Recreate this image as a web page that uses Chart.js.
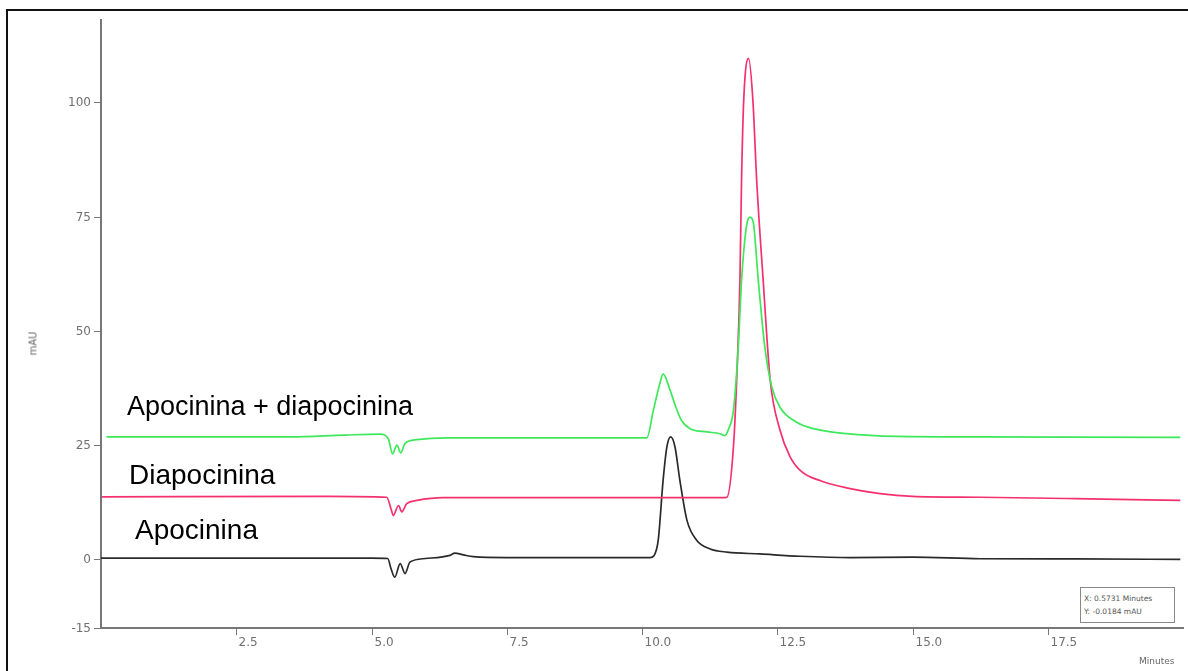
<!DOCTYPE html>
<html>
<head>
<meta charset="utf-8">
<script src="https://cdn.jsdelivr.net/npm/chart.js@4.4.0/dist/chart.umd.min.js"></script>
<style>
  html, body { margin: 0; padding: 0; background: #fff; }
  #wrap { position: relative; width: 1188px; height: 671px; overflow: hidden; }
  #frame { position: absolute; left: 6px; top: 9px; width: 1200px; height: 700px;
           border-left: 2px solid #111; border-top: 2px solid #111; }
  canvas { position: absolute; left: 0; top: 0; }
  .lbl { position: absolute; font-family: "Liberation Sans", Arial, sans-serif; color: #000; white-space: nowrap; }
  .small { position: absolute; font-family: "DejaVu Sans", sans-serif; color: #666; white-space: nowrap; }
  #info { position: absolute; left: 1080px; top: 587px; width: 95px; height: 36px; border: 1px solid #888;
          font-family: "DejaVu Sans", sans-serif; font-size: 7.5px; color: #555; line-height: 13px; padding: 4px 0 0 3px; box-sizing: border-box; background: #fff; }
</style>
</head>
<body>
<div id="wrap">
  <div id="frame"></div>
  <canvas id="chrom" width="1188" height="671"></canvas>
  <div class="lbl" style="left:127px; top:391px; font-size:27px;">Apocinina + diapocinina</div>
  <div class="lbl" style="left:129px; top:459px; font-size:28px;">Diapocinina</div>
  <div class="lbl" style="left:135px; top:514px; font-size:28px;">Apocinina</div>
  <div class="small" style="left:21px; top:338px; font-size:10px; transform: rotate(-90deg);">mAU</div>
  <div class="small" style="left:1139px; top:656px; font-size:9px;">Minutes</div>
  <div id="info">X: 0.5731 Minutes<br>Y: -0.0184 mAU</div>
</div>
<script>
const xTicks = [2.5, 5.0, 7.5, 10.0, 12.5, 15.0, 17.5];
const xTickLabels = ['2.5', '5.0', '7.5', '10.0', '12.5', '15.0', '17.5'];
const yTicks = [-15, 0, 25, 50, 75, 100];

// Apocinina (negro)
const apoT = [0, 5.0, 5.3, 5.36, 5.43, 5.53, 5.62, 5.71, 6.0, 6.45, 6.54, 6.7, 6.88, 7.5, 10.15, 10.22, 10.3, 10.39, 10.46, 10.53, 10.61, 10.7, 10.83, 11.01, 11.26, 11.57, 12.18, 12.92, 13.85, 15.0, 16.25, 18.0, 19.95];
const apoV = [0.3, 0.3, 0.2, -2.0, -3.9, -0.9, -3.1, -0.6, 0.2, 0.9, 1.4, 1.0, 0.6, 0.4, 0.4, 0.8, 4.2, 17.3, 24.6, 26.8, 24.6, 17.3, 8.6, 4.2, 2.3, 1.6, 1.2, 0.7, 0.4, 0.5, 0.15, 0.1, 0.0];

// Diapocinina (rosa)
const diaT = [0.02, 4.2, 5.28, 5.37, 5.4, 5.5, 5.56, 5.65, 5.84, 6.33, 8.0, 11.5, 11.57, 11.69, 11.75, 11.81, 11.84, 11.88, 11.97, 12.05, 12.12, 12.24, 12.37, 12.55, 12.74, 12.95, 13.3, 13.8, 14.4, 15.0, 16.25, 18.0, 19.95];
const diaV = [13.7, 13.8, 13.6, 10.7, 9.6, 11.8, 10.4, 12.2, 12.9, 13.5, 13.5, 13.5, 13.6, 24.6, 39.2, 61.0, 82.9, 100.4, 109.6, 100.4, 82.9, 61.0, 39.2, 28.3, 22.4, 19.2, 17.2, 15.6, 14.4, 13.8, 13.6, 13.3, 12.9];

// Apocinina + diapocinina (verde)
const mixT = [0.1, 3.5, 4.5, 5.16, 5.31, 5.39, 5.47, 5.54, 5.62, 5.84, 6.39, 10.05, 10.09, 10.21, 10.33, 10.39, 10.52, 10.62, 10.73, 10.89, 11.2, 11.44, 11.53, 11.6, 11.69, 11.78, 11.84, 11.94, 12.0, 12.06, 12.15, 12.27, 12.4, 12.55, 12.86, 13.17, 13.78, 14.71, 16.25, 19.95];
const mixV = [26.8, 26.8, 27.2, 27.4, 26.4, 23.1, 25.0, 23.3, 25.4, 26.2, 26.6, 26.6, 26.6, 32.6, 38.5, 40.6, 37.0, 33.5, 30.4, 28.6, 27.9, 27.5, 27.1, 28.5, 32.6, 46.5, 61.0, 73.5, 74.9, 73.5, 61.0, 46.5, 37.7, 33.3, 30.0, 28.6, 27.5, 26.9, 26.8, 26.7];

function puntos(ts, vs) {
    return ts.map((t, i) => ({ x: t, y: vs[i] }));
}

function serie(label, ts, vs, color) {
    return {
        label: label,
        data: puntos(ts, vs),
        borderColor: color,
        borderWidth: 1.7,
        pointRadius: 0,
        fill: false,
        cubicInterpolationMode: 'monotone'
    };
}

// marcas y etiquetas de los ejes al estilo del software del HPLC
const ticksPlugin = {
    id: 'hplcTicks',
    afterDraw(chart) {
        const { ctx, chartArea, scales: { x, y } } = chart;
        ctx.save();
        ctx.strokeStyle = '#777';
        ctx.lineWidth = 1;
        ctx.fillStyle = '#707070';
        ctx.font = '12px "DejaVu Sans", sans-serif';
        ctx.textBaseline = 'middle';
        ctx.textAlign = 'right';
        yTicks.forEach(v => {
            const py = Math.round(y.getPixelForValue(v)) + 0.5;
            ctx.beginPath();
            ctx.moveTo(chartArea.left - 7, py);
            ctx.lineTo(chartArea.left, py);
            ctx.stroke();
            ctx.fillText(String(v), chartArea.left - 10, py);
        });
        ctx.textAlign = 'left';
        xTicks.forEach((v, i) => {
            const px = Math.round(x.getPixelForValue(v)) + 0.5;
            ctx.beginPath();
            ctx.moveTo(px, chartArea.bottom);
            ctx.lineTo(px, chartArea.bottom + 7);
            ctx.stroke();
            ctx.fillText(xTickLabels[i], px + 2, chartArea.bottom + 15);
        });
        ctx.restore();
    }
};

const chrom = new Chart(document.getElementById('chrom'), {
    type: 'line',
    data: {
        datasets: [
            serie('Apocinina + diapocinina', mixT, mixV, '#3ee85a'),
            serie('Diapocinina', diaT, diaV, '#f4306e'),
            serie('Apocinina', apoT, apoV, '#2a2a2a')
        ]
    },
    options: {
        responsive: false,
        animation: false,
        layout: { padding: { left: 101, right: 5, top: 20, bottom: 43 } },
        plugins: { legend: { display: false }, tooltip: { enabled: false } },
        scales: {
            x: {
                type: 'linear',
                min: 0,
                max: 20,
                ticks: { display: false },
                grid: { display: false },
                border: { display: true, color: '#777', width: 2 },
                afterFit(s) { s.height = 0; }
            },
            y: {
                min: -15,
                max: 118,
                ticks: { display: false },
                grid: { display: false },
                border: { display: true, color: '#777', width: 2 },
                afterFit(s) { s.width = 0; }
            }
        }
    },
    plugins: [ticksPlugin]
});
</script>
</body>
</html>
